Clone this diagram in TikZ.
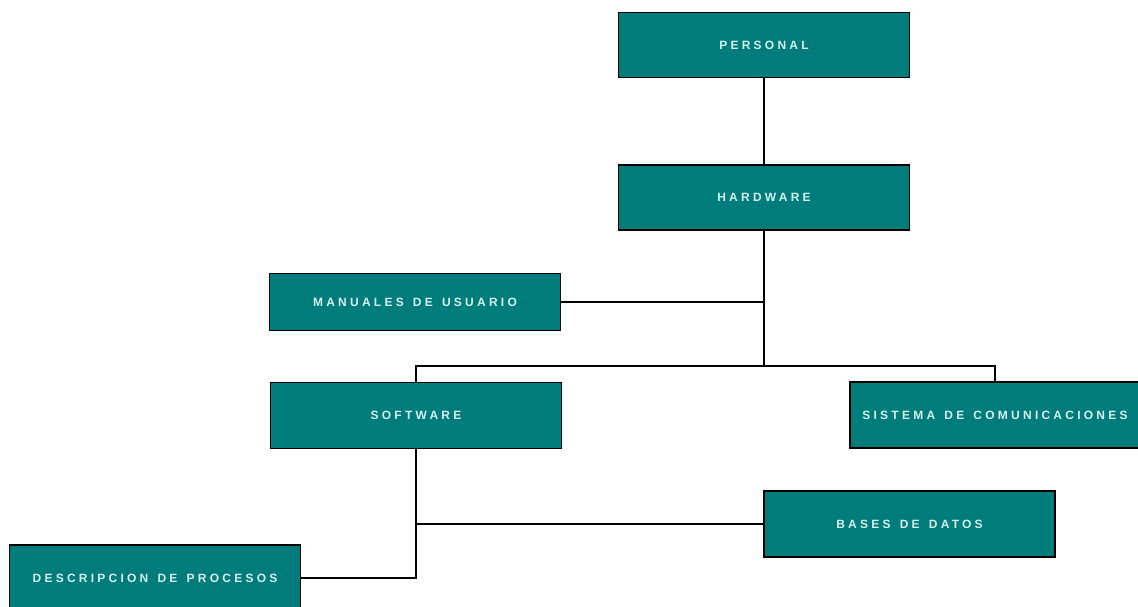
\documentclass[tikz,border=0pt]{standalone}
\usepackage{fontspec}
\newfontfamily\boxfont[LetterSpace=27,WordSpace=1.4,BoldFont={Liberation Sans Bold}]{Liberation Sans}
\definecolor{boxteal}{RGB}{0,124,122}
\definecolor{boxtext}{RGB}{214,240,238}
\begin{document}
\begin{tikzpicture}[x=1pt,y=-1pt,
  orgbox/.style={draw=black, line width=1.6pt, fill=boxteal, rectangle,
    minimum width=291pt, minimum height=65pt, inner sep=0pt,
    text=boxtext, font=\boxfont\bfseries\fontsize{12}{14}\selectfont},
  link/.style={draw=black, line width=1.6pt}]
\clip (0,0) rectangle (1138,606);
\fill[white] (0,0) rectangle (1138,606);
\node[orgbox] (personal) at (764,45) {PERSONAL};
\node[orgbox] (hardware) at (764,197.5) {HARDWARE};
\node[orgbox, minimum height=57pt] (manuales) at (415,302) {MANUALES DE USUARIO};
\node[orgbox, minimum height=66pt] (software) at (416,415.5) {SOFTWARE};
\node[orgbox, minimum height=66pt, minimum width=290pt] (sistema) at (995,415) {SISTEMA DE COMUNICACIONES};
\node[orgbox, minimum height=66pt] (bases) at (909.5,524) {BASES DE DATOS};
\node[orgbox, minimum height=66pt] (descripcion) at (155,578) {DESCRIPCION DE PROCESOS};
\coordinate (hub) at (764,366);
\coordinate (swlow) at (416,578);
\draw[link] (personal.south) -- (hardware.north);
\draw[link] (hardware.south) -- (hub);
\draw[link] (manuales.east) -- (hardware.south |- manuales.east);
\draw[link] (software.north) |- (hub) -| (sistema.north);
\draw[link] (software.south) -- (swlow) -- (descripcion.east);
\draw[link] (bases.west) -- (software.south |- bases.west);
\end{tikzpicture}
\end{document}
